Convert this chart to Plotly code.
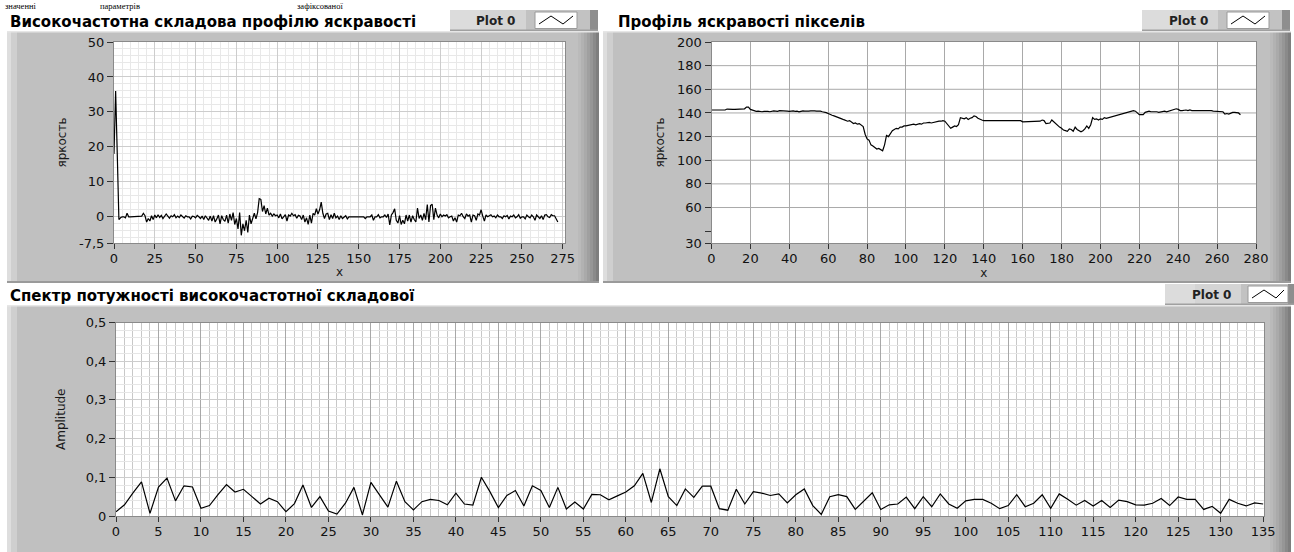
import plotly.graph_objects as go

# ---------------- data ----------------
hf_values = [
    18, 36, 18, -0.8, -0.3, 0, 0, -0.3, 1.0, 0,
    0, 0, 0, 0, 0, 0, 0, 0.2, 1.0, 0.3,
    -1.5, -0.5, -1.2, 0.3, -0.8, 0.5, -0.3, 0.6, -0.2, 0.4,
    -0.5, 0.2, 0.8, 0.2, -0.4, 0.3, 0.0, 0.6, -0.3, 0.2,
    -0.2, 0.5, 0, -0.4, 0.3, 0, 0, -0.6, 0.2, 0.1,
    -0.3, 0.4, 0, -0.5, 0.2, -0.8, 0.3, -0.5, -1.0, 0.2,
    -1.2, 0.3, -1.5, -0.6, 0.5, -2.0, 0.3, -0.8, -1.3, 0.5,
    -1.8, 0.8, -1.0, 1.2, -2.2, -0.5, -3.5, 1.2, -5.3, -2.0,
    -4.0, -1.0, -4.5, 0.5, -2.0, -0.5, 1.0, -0.6, 1.2, 5.2,
    5.0, 1.5, 3.2, 0.8, 2.5, 0.5, 1.0, 0.2, 0.8, 0.3,
    0.5, -0.3, 0.8, -0.6, 0.2, 0.6, -1.2, 0.5, 0.2, 1.0,
    0.3, 0.6, -0.4, 0.4, 0.2, -0.8, 0.5, -1.5, -0.3, -2.2,
    0.5, -1.8, 1.0, 0.5, 2.3, 0.8, 2.0, 4.2, 1.0, -0.5,
    0.8, 1.0, -0.8, 0.6, -0.5, 1.0, -0.3, 0.2, -0.8, 0.3,
    -0.5, 0, 0.3, -0.6, 0, 0, 0, 0, 0, -0.2,
    0, 0, 0, 0, -0.5, 0, 0, 0, 0.5, -1.0,
    0, 0, 0.6, -0.3, 0, 0, 0.5, -0.2, 0.8, -2.3,
    0.5, 1.2, 2.3, -1.0, -1.8, 0.3, -2.2, -1.0, -2.0, 0.5,
    -1.2, 0.5, -1.5, 0.3, -0.8, -1.5, 2.5, -0.5, 0.5, -1.0,
    1.0, -0.8, 3.5, -1.5, 3.2, 3.6, -0.8, 2.5, 0.5, -0.3,
    0.8, 0, 0.5, 0.2, 0.6, -0.3, 0, 0.2, -1.2, -0.3,
    -1.5, 0.5, 0.3, 1.0, 0, -0.5, 0.8, 0.2, 0.5, -1.5,
    0.5, 0.3, -1.0, 0.8, 0.5, 2.0, 0.2, -1.2, 0.5, 0,
    0.3, 0.6, 0, 0.2, -0.3, 0.5, 0, 0, -0.5, 0.3,
    0, 0.4, -0.6, 0.2, 0, 0.5, -0.3, 0, 0.6, -0.4,
    0, 0, -0.6, 0.5, 0, -0.3, 0.5, 0, -1.0, 0.5,
    0, -0.5, 0.3, -0.8, 0.5, 0.6, 0, -0.2, 0.6, 0.3,
    0.3, -0.5, -1.5,
]

profile_values = [
    142.5, 142.5, 142.3, 142.5, 142.3, 142.3, 142.5, 142.5, 143.3, 143.0,
    143, 143, 143, 143, 143, 143, 143, 143.5, 145, 145,
    143, 142.5, 141.5, 141.3, 141.5, 141, 141, 141.3, 141.5, 141.3,
    141, 141.5, 141.8, 141.6, 141.3, 142, 142, 141.5, 141.7, 141.5,
    141.3, 141.5, 141.8, 141.3, 141.5, 141, 141.5, 141.8, 141.5, 141.8,
    141.5, 141.7, 142, 141.8, 141.5, 141.6, 141.5, 141, 140.8, 140.3,
    139.5, 138.5, 138, 137.5, 137, 136, 135.5, 135, 134.3, 133.8,
    133, 133.5, 132.5, 131, 131.5, 130.5, 131, 129.5, 128.5, 122,
    118, 117, 113, 112, 111, 109.5, 110, 109, 108, 113,
    121, 120, 122.5, 125, 126, 127, 126.5, 128, 128, 129,
    129, 129.5, 129.5, 130, 130.5, 130, 130.5, 131, 130.5, 131.5,
    131.5, 132, 132, 131.5, 132, 132.5, 133, 133, 133, 133.5,
    133, 131, 129, 127, 128, 129, 128.5, 130, 136, 135.5,
    135, 136, 134.5, 135.5, 136, 137.5, 137, 135.5, 134.5, 134,
    133.5, 133.5, 134, 133.5, 133.5, 133.5, 133.5, 133.5, 133.5, 133.5,
    133.5, 133.5, 134, 134, 134, 134, 134, 134, 134, 133.5,
    132.5, 132.5, 132.7, 132.5, 133, 133, 133, 133, 133, 133,
    134, 133.5, 131, 131, 131.5, 134, 132.5, 131, 129, 128,
    127, 125.5, 125, 124.5, 126.5, 126, 124.5, 128, 126, 125,
    124, 125, 126.5, 129, 127, 130, 136, 134.5, 135, 134,
    135, 134.5, 136, 135.5, 136, 136.5, 136.5, 137, 137.5, 138,
    138.5, 139, 140, 140.5, 141, 141, 141.5, 142, 141.5, 140,
    138.5, 138.5, 138.5, 140.5, 141, 141.5, 141, 141, 141.5, 141,
    140.5, 141, 141, 141.5, 141, 141.5, 141.5, 142, 142.5, 143.5,
    143, 142, 142, 142.5, 142.5, 142, 142.5, 142, 142, 142.5,
    142.5, 142.5, 142, 142, 142.5, 142, 142.5, 142, 141.5, 141.5,
    141.5, 141, 141.5, 141, 139, 139.5, 139, 140, 140.5, 140.5,
    140.5, 140, 138.5,
]

spectrum_values = [
    0.011, 0.029, 0.060, 0.088, 0.007, 0.075, 0.098, 0.039, 0.078, 0.075,
    0.020, 0.027, 0.055, 0.081, 0.062, 0.069, 0.050, 0.031, 0.046, 0.037,
    0.011, 0.032, 0.080, 0.022, 0.050, 0.013, 0.005, 0.033, 0.074, 0.003,
    0.087, 0.056, 0.023, 0.090, 0.037, 0.016, 0.037, 0.043, 0.040, 0.029,
    0.059, 0.031, 0.028, 0.100, 0.063, 0.022, 0.053, 0.066, 0.026, 0.078,
    0.066, 0.022, 0.074, 0.018, 0.036, 0.018, 0.056, 0.055, 0.042, 0.052,
    0.062, 0.078, 0.110, 0.035, 0.122, 0.050, 0.027, 0.070, 0.048, 0.077,
    0.077, 0.019, 0.015, 0.069, 0.031, 0.063, 0.059, 0.053, 0.057, 0.034,
    0.055, 0.070, 0.027, 0.004, 0.050, 0.055, 0.050, 0.017, 0.039, 0.060,
    0.017, 0.029, 0.031, 0.049, 0.019, 0.050, 0.024, 0.057, 0.031, 0.020,
    0.039, 0.043, 0.043, 0.033, 0.019, 0.027, 0.055, 0.024, 0.033, 0.055,
    0.020, 0.057, 0.043, 0.028, 0.040, 0.026, 0.040, 0.022, 0.041, 0.037,
    0.029, 0.028, 0.033, 0.045, 0.027, 0.049, 0.043, 0.043, 0.017, 0.025,
    0.007, 0.043, 0.033, 0.026, 0.034, 0.031,
]

hf_x = list(range(len(hf_values)))
profile_x = list(range(len(profile_values)))
spectrum_x = list(range(len(spectrum_values)))

hf_xticks = [0, 25, 50, 75, 100, 125, 150, 175, 200, 225, 250, 275]
hf_yticks = [-7.5, 0, 10, 20, 30, 40, 50]
hf_yticktext = ["-7,5", "0", "10", "20", "30", "40", "50"]
profile_xticks = [0, 20, 40, 60, 80, 100, 120, 140, 160, 180, 200, 220, 240, 260, 280]
profile_yticks = [30, 40, 60, 80, 100, 120, 140, 160, 180, 200]
profile_yticktext = ["30", "", "60", "80", "100", "120", "140", "160", "180", "200"]
profile_ygrid = [60, 80, 100, 120, 140, 160, 180]

titles = ["Високочастотна складова профілю яскравості",
          "Профіль яскравості пікселів",
          "Спектр потужності високочастотної складової"]
top_words = ["значенні", "параметрів", "зафіксованої"]

# ---------------- geometry helpers ----------------
W, H = 1294, 552
def px(x):
    return x / W
def py(y):
    return 1 - y / H

TICKFONT = dict(family="DejaVu Sans", size=13, color="#111111")
TITLEFONT = dict(family="DejaVu Sans", size=12, color="#1a1a1a")

fig = go.Figure()
line_style = dict(color="black", width=1.2)
fig.add_trace(go.Scatter(x=hf_x, y=hf_values, mode="lines", line=line_style,
                         xaxis="x", yaxis="y", showlegend=False, name="Plot 0"))
fig.add_trace(go.Scatter(x=profile_x, y=profile_values, mode="lines", line=line_style,
                         xaxis="x2", yaxis="y2", showlegend=False, name="Plot 0"))
fig.add_trace(go.Scatter(x=spectrum_x, y=spectrum_values, mode="lines", line=line_style,
                         xaxis="x3", yaxis="y3", showlegend=False, name="Plot 0"))

common_axis = dict(showline=True, linecolor="#8a8a8a", linewidth=1, mirror=True,
                   ticks="outside", tickcolor="#333333", tickfont=TICKFONT,
                   zeroline=False, fixedrange=True, automargin=False)

# plot areas (pixels)
p1 = dict(l=114, r=565, t=42, b=243)
p2 = dict(l=711.5, r=1256, t=42, b=243)
p3 = dict(l=116, r=1264, t=322.5, b=516)

fig.update_layout(
    width=W, height=H,
    margin=dict(l=0, r=0, t=0, b=0, autoexpand=False),
    paper_bgcolor="white",
    plot_bgcolor="rgba(0,0,0,0)",
    separators=", ",
    showlegend=False,
    xaxis=dict(common_axis, domain=[px(p1["l"]), px(p1["r"])], range=[0, 276.4],
               anchor="y", tickvals=hf_xticks, ticklen=5, ticklabelstandoff=-2,
               showgrid=True, gridcolor="#cdcdcd", gridwidth=1,
               minor=dict(dtick=5, tick0=0, showgrid=True, gridcolor="#e8e8e8", ticklen=0),
               title=dict(text="x", font=TITLEFONT, standoff=3)),
    yaxis=dict(common_axis, domain=[py(p1["b"]), py(p1["t"])], range=[-7.5, 50],
               anchor="x", tickvals=hf_yticks, ticktext=hf_yticktext, ticklen=6,
               showgrid=True, gridcolor="#cdcdcd",
               minor=dict(dtick=2, tick0=0, showgrid=True, gridcolor="#e8e8e8", ticklen=0),
               title=dict(text="яркость", font=TITLEFONT, standoff=9)),
    xaxis2=dict(common_axis, domain=[px(p2["l"]), px(p2["r"])], range=[0, 280],
                anchor="y2", tickvals=profile_xticks, ticklen=5, ticklabelstandoff=-2,
                showgrid=True, gridcolor="#a9a9a9",
                title=dict(text="x", font=TITLEFONT, standoff=3)),
    yaxis2=dict(common_axis, domain=[py(p2["b"]), py(p2["t"])], range=[30, 200],
                anchor="x2", tickvals=profile_yticks, ticktext=profile_yticktext, ticklen=6,
                showgrid=False,
                title=dict(text="яркость", font=TITLEFONT, standoff=9)),
    xaxis3=dict(common_axis, domain=[px(p3["l"]), px(p3["r"])], range=[0, 135.1],
                anchor="y3", dtick=5, tick0=0, ticklen=5, ticklabelstandoff=-2,
                showgrid=True, gridcolor="#a8a8a8",
                minor=dict(dtick=1, tick0=0, showgrid=True, gridcolor="#c8c8c8", ticklen=0)),
    yaxis3=dict(common_axis, domain=[py(p3["b"]), py(p3["t"])], range=[0, 0.5],
                anchor="x3", dtick=0.1, tick0=0, ticklen=6,
                showgrid=True, gridcolor="#cdcdcd",
                minor=dict(dtick=0.02, tick0=0, showgrid=True, gridcolor="#e6e6e6", ticklen=0),
                title=dict(text="Amplitude", font=TITLEFONT, standoff=17)),
)

shapes = []
def rect(x0, y0, x1, y1, fill, line=None):
    shapes.append(dict(type="rect", xref="paper", yref="paper", layer="below",
                       x0=px(x0), x1=px(x1), y0=py(y1), y1=py(y0), fillcolor=fill,
                       line=dict(width=0) if line is None else line))

def frame(x0, y0, x1, y1):
    rect(x0, y0, x1, y1, "#c0c0c0")
    rect(x0, y0, x0 + 10, y1, "#cfcfcf")
    rect(x0, y0, x0 + 4, y1, "#dedede")
    grads = ["#bababa", "#b2b2b2", "#aaaaaa", "#a0a0a0", "#969696", "#8a8a8a", "#7e7e7e"]
    w = 3
    for i, c in enumerate(grads):
        rect(x1 - (len(grads) - i) * w, y0, x1 - (len(grads) - i - 1) * w, y1, c)
    rect(x0, y0, x1, y0 + 1.5, "#e6e6e6")
    rect(x0, y1 - 2, x1, y1, "#9a9a9a")

frame(7, 31, 599, 283)
frame(603, 31, 1291, 283)
frame(7, 305, 1291, 554)

# white plot areas
for p in (p1, p2, p3):
    rect(p["l"], p["t"], p["r"], p["b"], "#ffffff")

# legend boxes "Plot 0"
def legend_box(x0, y0, x1, y1, text_cx, ix0, ix1):
    rect(x0, y0, x1, y1, "#c2c2c2")
    rect(x0, y0, text_cx + 30, y1 - 1, "#d4d4d4")
    rect(x0, y0, x0 + 30, y1 - 1, "#dcdcdc")
    rect(x1 - 8, y0, x1, y1, "#8e8e8e")
    rect(x0, y1 - 1.5, x1, y1, "#a0a0a0")
    rect(ix0, y0 + 2, ix1, y1 - 2.5, "#ffffff", line=dict(color="#9a9a9a", width=1))
    pts = [(ix0 + 4, y1 - 7), (ix0 + 16, y0 + 6), (ix0 + 28, y1 - 7), (ix1 - 4, y0 + 6)]
    path = "M " + " L ".join(f"{px(a)},{py(b)}" for a, b in pts)
    shapes.append(dict(type="path", xref="paper", yref="paper", path=path,
                       line=dict(color="black", width=1), layer="above"))
    return (text_cx, (y0 + y1) / 2)

legend_centers = [legend_box(450, 10, 598, 31, 496, 535, 577),
                  legend_box(1142, 10, 1290, 31, 1188, 1227, 1269),
                  legend_box(1165, 284, 1296, 305, 1211, 1248, 1288)]

# panel-2 horizontal grid drawn through the data axis
for v in profile_ygrid:
    shapes.append(dict(type="line", xref="x2 domain", yref="y2", x0=0, x1=1, y0=v, y1=v,
                       line=dict(color="#a9a9a9", width=1), layer="below"))

fig.update_layout(shapes=shapes)

annotations = []
for (cx, cy) in legend_centers:
    annotations.append(dict(text="<b>Plot 0</b>", x=px(cx), y=py(cy), xref="paper", yref="paper",
                            showarrow=False, xanchor="center", yanchor="middle",
                            font=dict(family="DejaVu Sans", size=12, color="#222222")))

title_pos = [(8, 22), (616, 22), (8, 296)]
for t, (tx, ty) in zip(titles, title_pos):
    annotations.append(dict(text=f"<b>{t}</b>", x=px(tx), y=py(ty), xref="paper", yref="paper",
                            showarrow=False, xanchor="left", yanchor="middle",
                            font=dict(family="DejaVu Sans", size=15, color="#000000")))

# body text peeking in at the very top of the page
for word, wx in zip(top_words, [4, 99, 296]):
    annotations.append(dict(text=word, x=px(wx), y=py(0), xref="paper", yref="paper",
                            showarrow=False, xanchor="left", yanchor="top",
                            font=dict(family="Liberation Serif", size=8.5, color="#000000"),
                            borderpad=0))

fig.update_layout(annotations=annotations)

# the page's default 8px body margin would shift the 1294x552 figure; remove it
fig.write_html("out.html",
               config={"displayModeBar": False, "staticPlot": True},
               post_script="document.body.style.margin='0';document.body.style.overflow='hidden';")
